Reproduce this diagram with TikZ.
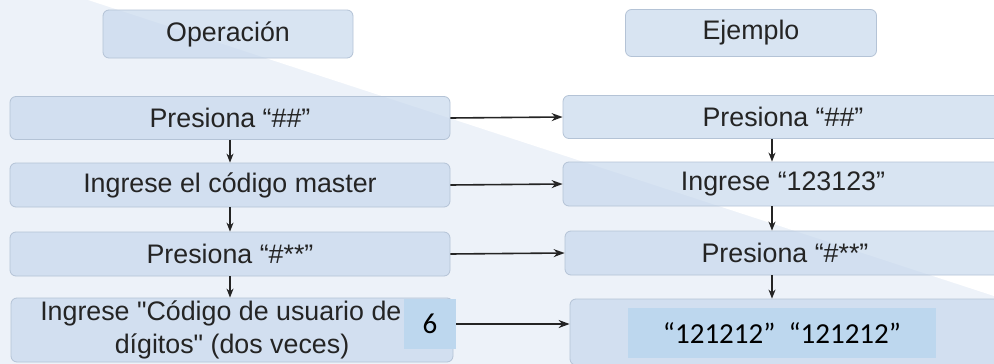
\documentclass[tikz,border=0pt]{standalone}
\usepackage{fontspec}
\setmainfont{Liberation Sans}
\newfontfamily\calib{Carlito}
\usetikzlibrary{arrows.meta}
\definecolor{bgcol}{HTML}{EDF2F9}
\definecolor{boxblue}{HTML}{C4D6EC}
\definecolor{boxline}{HTML}{B4C3D6}
\definecolor{patch}{HTML}{BDD7EE}
\definecolor{ink}{HTML}{242424}
\tikzset{
  stepbox/.style={rectangle,rounded corners=6pt,draw=boxline,line width=0.8pt,fill=boxblue,fill opacity=0.65,text opacity=1,text=ink,inner sep=0pt,font=\fontsize{26.8}{33}\selectfont,align=center},
  patchbox/.style={rectangle,fill=patch,inner sep=0pt,text=black,font=\calib\fontsize{29}{34}\selectfont},
  link/.style={draw=ink,line width=1.6pt,-{Stealth[length=11pt,width=8pt]}},
  down/.style={draw=ink,line width=1.4pt,-{Stealth[length=9pt,width=7pt]}}
}
\begin{document}
\begin{tikzpicture}[x=1pt,y=-1pt]
        \useasboundingbox (0,0) rectangle (994,364);
        \clip (0,0) rectangle (994,364);
        \fill[bgcol] (0,0) rectangle (994,364);
        \fill[white] (88,0) -- (994,0) -- (994,296) -- cycle;
        \node[stepbox,minimum width=250pt,minimum height=48pt] (op) at (228,34) {Operación};
        \node[stepbox,minimum width=251pt,minimum height=47pt] (ej) at (751,33) {Ejemplo};
        \node[stepbox,minimum width=440pt,minimum height=43pt] (o1) at (230,118) {Presiona “\#\#”};
        \node[stepbox,minimum width=440pt,minimum height=44pt] (o2) at (230,185) {Ingrese el código master};
        \node[stepbox,minimum width=440pt,minimum height=44pt] (o3) at (230,254) {Presiona “\#**”};
        \node[stepbox,minimum width=442pt,minimum height=64pt] (o4) at (232,330) {Ingrese \textquotedbl Código de usuario de\hphantom{ 6}\\dígitos\textquotedbl\ (dos veces)};
        \node[patchbox,minimum width=52pt,minimum height=50pt] (six) at (430,324) {6};
        \node[stepbox,minimum width=440pt,minimum height=43pt] (e1) at (783,117) {Presiona “\#\#”};
        \node[stepbox,minimum width=440pt,minimum height=44pt] (e2) at (783,184) {Ingrese “123123”};
        \node[stepbox,minimum width=440pt,minimum height=44pt] (e3) at (785,253) {Presiona “\#**”};
        \node[stepbox,minimum width=440pt,minimum height=66pt] (e4) at (790,332) {};
        \node[patchbox,minimum width=308pt,minimum height=50pt] (pw) at (782,333) {“121212”\ \ “121212”};
        \draw[link] (o1.east) -- (e1.west);
        \draw[link] (o2.east) -- (e2.west);
        \draw[link] (o3.east) -- (e3.west);
        \draw[link] (six.east) -- (six.east -| e4.west);
        \draw[down] (o1.south) -- (o2.north);
        \draw[down] (o2.south) -- (o3.north);
        \draw[down] (o3.south) -- (o4.north -| o3.south);
        \draw[down] ([xshift=-11pt]e1.south) -- ([xshift=-11pt]e2.north);
        \draw[down] ([xshift=-11pt]e2.south) -- ([xshift=-13pt]e3.north);
        \draw[down] ([xshift=-13pt]e3.south) -- ([xshift=-18pt]e4.north);
        \end{tikzpicture}
\end{document}
